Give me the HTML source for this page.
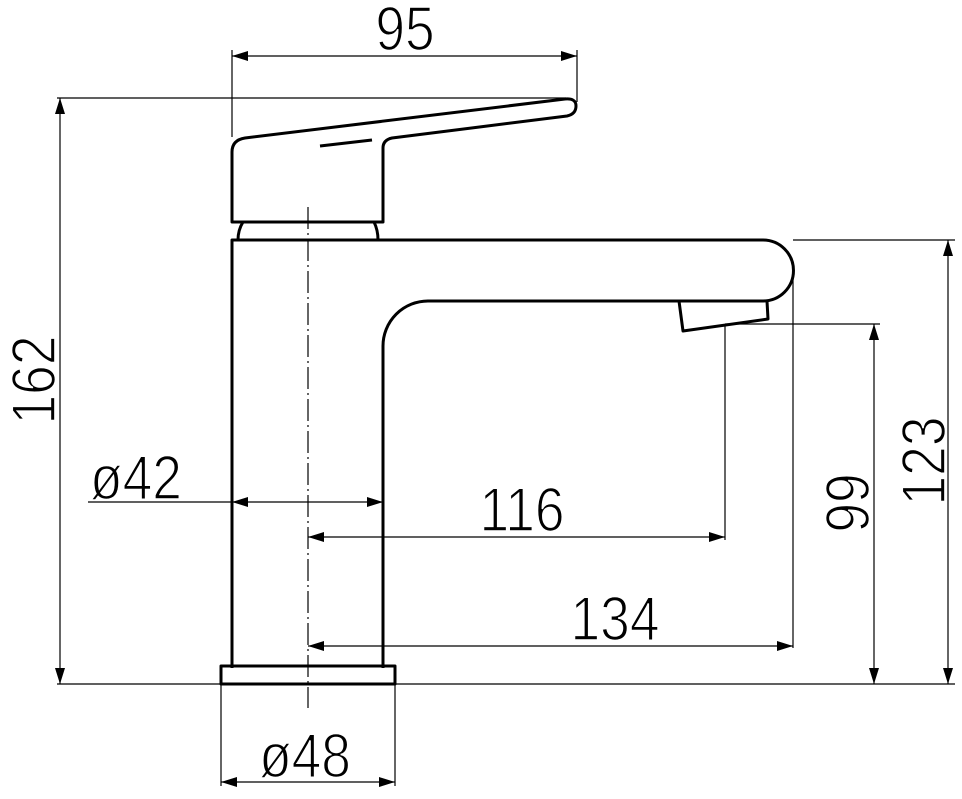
<!DOCTYPE html>
<html><head><meta charset="utf-8"><style>
html,body{margin:0;padding:0;background:#fff;}
svg{display:block;}
text{font-family:"Liberation Sans",sans-serif;font-size:62px;fill:#000;stroke:#fff;stroke-width:1.6px;}
</style></head><body>
<svg width="962" height="799" viewBox="0 0 962 799" xmlns="http://www.w3.org/2000/svg">
<defs>
<marker id="a" viewBox="0 0 16 10" refX="16" refY="5" markerWidth="16" markerHeight="10" markerUnits="userSpaceOnUse" orient="auto-start-reverse"><path d="M0,0 L16,5 L0,10 z" fill="#000"/></marker>
</defs>
<g fill="none" stroke="#000" stroke-width="1.2">
<line x1="57" y1="684" x2="955" y2="684"/>
<line x1="57" y1="98" x2="566" y2="98"/>
<line x1="232" y1="50" x2="232" y2="137"/>
<line x1="577" y1="50" x2="577" y2="102"/>
<line x1="793" y1="240" x2="955" y2="240"/>
<line x1="725" y1="324" x2="880" y2="324"/>
<line x1="725" y1="325" x2="725" y2="540"/>
<line x1="793" y1="270" x2="793" y2="648"/>
<line x1="221" y1="684" x2="221" y2="786"/>
<line x1="395" y1="684" x2="395" y2="786"/>
<line x1="88" y1="502" x2="232" y2="502"/>
<line x1="232" y1="56" x2="577" y2="56" marker-start="url(#a)" marker-end="url(#a)"/>
<line x1="60" y1="98" x2="60" y2="684" marker-start="url(#a)" marker-end="url(#a)"/>
<line x1="232" y1="502" x2="383" y2="502" marker-start="url(#a)" marker-end="url(#a)"/>
<line x1="308" y1="537" x2="725" y2="537" marker-start="url(#a)" marker-end="url(#a)"/>
<line x1="308" y1="646" x2="793" y2="646" marker-start="url(#a)" marker-end="url(#a)"/>
<line x1="221" y1="782" x2="395" y2="782" marker-start="url(#a)" marker-end="url(#a)"/>
<line x1="874" y1="324" x2="874" y2="684" marker-start="url(#a)" marker-end="url(#a)"/>
<line x1="948" y1="240" x2="948" y2="684" marker-start="url(#a)" marker-end="url(#a)"/>
<line x1="308" y1="207" x2="308" y2="708" stroke-dasharray="22,4,2,4"/>
</g>
<g fill="none" stroke="#000" stroke-width="3" stroke-linejoin="round">
<path d="M232,222 L232,152 Q232,140 245,138 L565,99 Q576,98 576,106 Q576,114 567,116 L392,138 Q383,140 383,148 L383,222 Z"/>
<line x1="320" y1="146" x2="372" y2="140"/>
<path d="M238,240 Q238,230 243,222"/>
<path d="M374,222 Q378,230 378,240"/>
<path d="M232,668 L232,240 L763,240 A30.5,30.5 0 0 1 763,301 L428,301 A45,45 0 0 0 383,346 L383,668"/>
<path d="M679,301 L683,331 L768,319 L767,301"/>
<rect x="221" y="666" width="174" height="18"/>
</g>
<g>
<text text-anchor="middle" transform="translate(405,50) scale(0.86,1)">95</text>
<text transform="translate(90,499) scale(0.86,1)">ø42</text>
<text text-anchor="middle" transform="translate(522,531) scale(0.86,1)">116</text>
<text text-anchor="middle" transform="translate(615,640) scale(0.86,1)">134</text>
<text text-anchor="middle" transform="translate(305,777) scale(0.86,1)">ø48</text>
<text text-anchor="middle" transform="translate(55,380) rotate(-90) scale(0.86,1)">162</text>
<text text-anchor="middle" transform="translate(869,503) rotate(-90) scale(0.86,1)">99</text>
<text text-anchor="middle" transform="translate(945,461) rotate(-90) scale(0.86,1)">123</text>
</g>
</svg>
</body></html>
